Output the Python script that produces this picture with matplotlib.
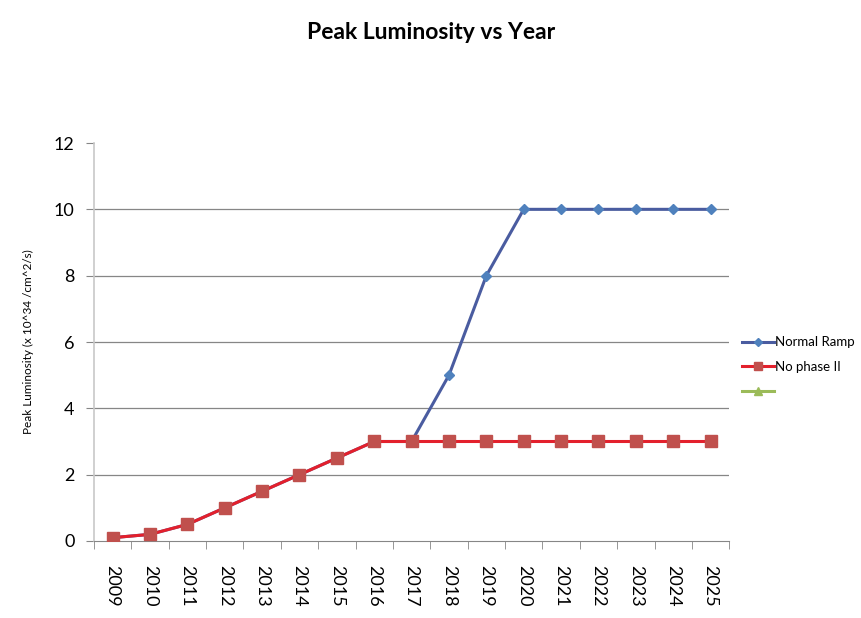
import matplotlib.pyplot as plt
from matplotlib.lines import Line2D
import numpy as np

years = [str(y) for y in range(2009, 2026)]
normal_ramp = [0.1, 0.2, 0.5, 1, 1.5, 2, 2.5, 3, 3, 5, 8, 10, 10, 10, 10, 10, 10]
no_phase2 = [0.1, 0.2, 0.5, 1, 1.5, 2, 2.5, 3, 3, 3, 3, 3, 3, 3, 3, 3, 3]

plt.rcParams['font.family'] = ['Lato', 'DejaVu Sans']

fig = plt.figure(figsize=(8.62, 6.18), dpi=100)
ax = fig.add_axes([0.109, 0.1246, 0.737, 0.644])

x = np.arange(len(years))
ax.plot(x, normal_ramp, color='#4a5ca0', lw=2.2, marker='D', markersize=5,
        markerfacecolor='#4f81bd', markeredgecolor='#4f81bd', zorder=3)
ax.plot(x, no_phase2, color='#e3202c', lw=2.2, marker='s', markersize=8,
        markerfacecolor='#c0504d', markeredgecolor='#c0504d', zorder=4)

ax.set_xlim(-0.5, len(years) - 0.5)
ax.set_ylim(0, 12)
ax.set_yticks(range(0, 13, 2))
for yv in range(2, 12, 2):
    ax.axhline(yv, color='#868686', lw=0.9, zorder=1)

for s in ['top', 'right']:
    ax.spines[s].set_visible(False)
ax.spines['left'].set_color('#c8c8c8')
ax.spines['left'].set_linewidth(1.2)
ax.spines['bottom'].set_color('#868686')

ax.set_xticks(x)
ax.set_xticklabels(years, rotation=270, fontsize=13)
ax.set_xticks(np.arange(-0.5, len(years), 1), minor=True)
ax.tick_params(axis='x', which='major', length=0, pad=17)
ax.tick_params(axis='x', which='minor', length=6, color='#868686', direction='out')
ax.tick_params(axis='y', length=6, color='#868686', direction='out', labelsize=13, pad=8)

ax.set_ylabel('Peak Luminosity (x 10^34 /cm^2/s)', fontsize=8.5, labelpad=14)
fig.suptitle('Peak Luminosity vs Year', fontsize=16.5, fontweight='bold', y=0.965)

handles = [
    Line2D([], [], color='#4a5ca0', lw=2.2, marker='D', markersize=4,
           markerfacecolor='#4f81bd', markeredgecolor='#4f81bd'),
    Line2D([], [], color='#e3202c', lw=2.2, marker='s', markersize=6,
           markerfacecolor='#c0504d', markeredgecolor='#c0504d'),
    Line2D([], [], color='#9bbb59', lw=2.2, marker='^', markersize=6,
           markerfacecolor='#9bbb59', markeredgecolor='#9bbb59'),
]
fig.legend(handles, ['Normal Ramp', 'No phase II', ''], loc='upper left',
           bbox_to_anchor=(0.847, 0.475), frameon=False, fontsize=9.5,
           handlelength=2.4, handletextpad=0.1, labelspacing=0.95)

fig.savefig('out.png', dpi=100)
